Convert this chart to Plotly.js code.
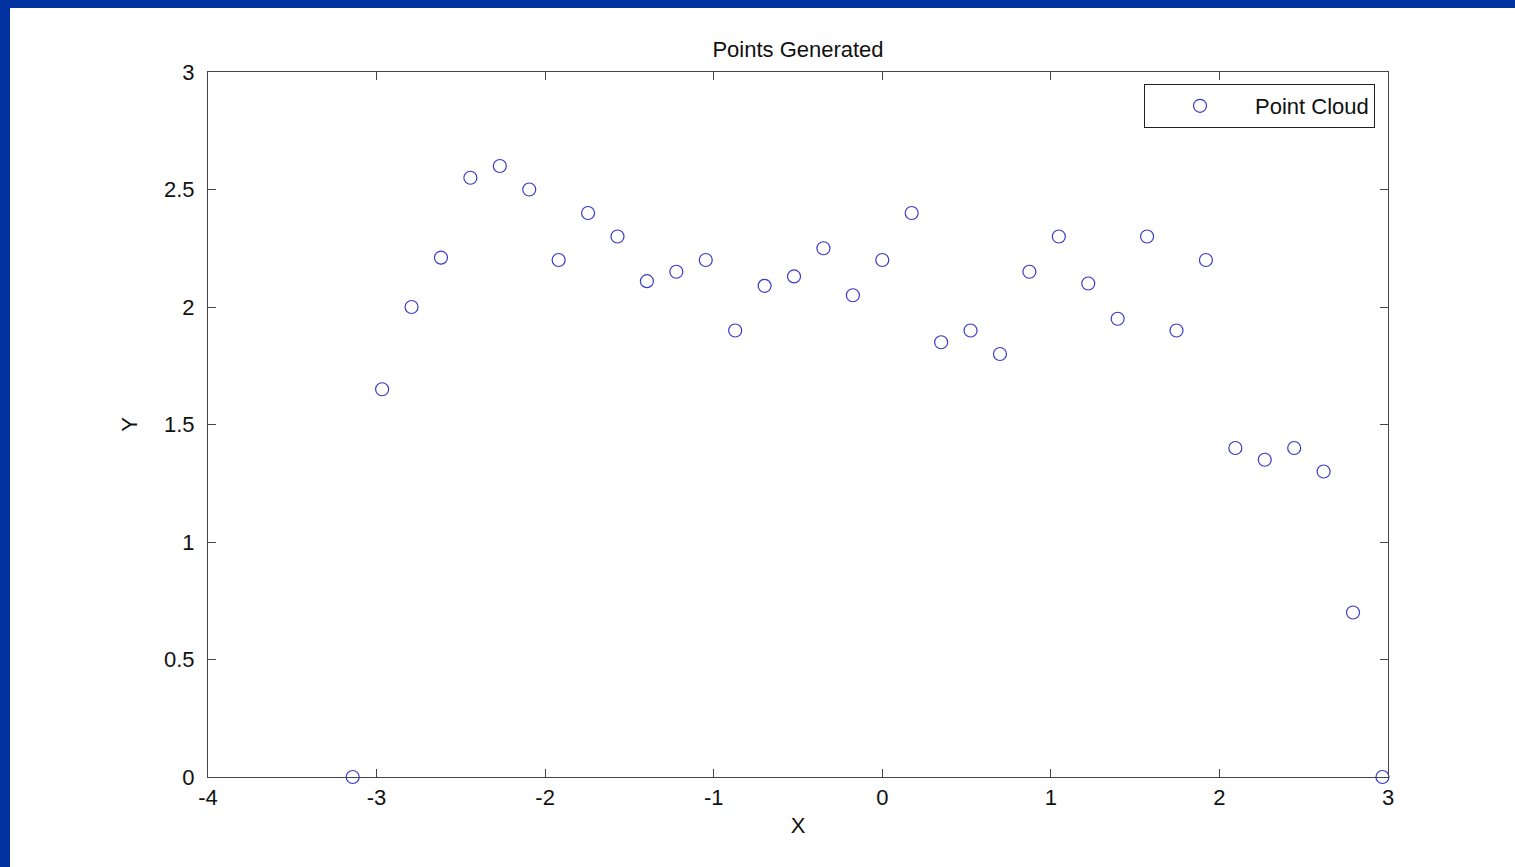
<!DOCTYPE html>
<html>
<head>
<meta charset="utf-8">
<script src="https://cdn.plot.ly/plotly-3.0.1.min.js"></script>
<style>
  html, body { margin: 0; padding: 0; background: #0033A0; width: 1515px; height: 867px; overflow: hidden; }
  #frame { position: absolute; left: 10px; top: 8px; width: 1505px; height: 859px; background: #ffffff; }
  #chart { width: 1505px; height: 859px; }
</style>
</head>
<body>
<div id="frame"><div id="chart"></div></div>
<script>
// Data
const xValues = [-3.1416, -2.9671, -2.7925, -2.6180, -2.4435, -2.2689, -2.0944, -1.9199, -1.7453,
  -1.5708, -1.3963, -1.2217, -1.0472, -0.8727, -0.6981, -0.5236, -0.3491, -0.1745, 0.0000,
  0.1745, 0.3491, 0.5236, 0.6981, 0.8727, 1.0472, 1.2217, 1.3963, 1.5708, 1.7453, 1.9199,
  2.0944, 2.2689, 2.4435, 2.6180, 2.7925, 2.9671];
const yValues = [0.00, 1.65, 2.00, 2.21, 2.55, 2.60, 2.50, 2.20, 2.40,
  2.30, 2.11, 2.15, 2.20, 1.90, 2.09, 2.13, 2.25, 2.05, 2.20,
  2.40, 1.85, 1.90, 1.80, 2.15, 2.30, 2.10, 1.95, 2.30, 1.90, 2.20,
  1.40, 1.35, 1.40, 1.30, 0.70, 0.00];
const seriesName = "Point Cloud";
const chartTitle = "Points Generated";
const xTitle = "X";
const yTitle = "Y";
const xTicks = [-4, -3, -2, -1, 0, 1, 2, 3];
const yTicks = [0, 0.5, 1, 1.5, 2, 2.5, 3];

const fontFamily = "'Liberation Sans', Arial, Helvetica, sans-serif";
const fontSize = 22;

const trace = {
  x: xValues,
  y: yValues,
  type: "scatter",
  mode: "markers",
  name: seriesName,
  legendwidth: 240,
  cliponaxis: false,
  marker: { symbol: "circle-open", size: 13, color: "#3a3ac8", line: { width: 1.2, color: "#3a3ac8" } }
};

const axisCommon = {
  showline: true,
  linecolor: "#444444",
  linewidth: 1,
  mirror: "ticks",
  ticks: "inside",
  ticklen: 8,
  tickwidth: 1,
  tickcolor: "#444444",
  showgrid: false,
  zeroline: false,
  tickfont: { family: fontFamily, size: fontSize, color: "#111111" }
};

const layout = {
  width: 1505,
  height: 859,
  paper_bgcolor: "#ffffff",
  plot_bgcolor: "#ffffff",
  margin: { l: 198, r: 127, t: 64, b: 90 },
  font: { family: fontFamily, color: "#111111" },
  title: {
    text: chartTitle,
    font: { family: fontFamily, size: fontSize, color: "#111111" },
    x: 0.5, xref: "paper", xanchor: "center",
    y: 1 - 41 / 859, yref: "container", yanchor: "middle"
  },
  xaxis: Object.assign({}, axisCommon, {
    range: [-4, 3],
    tickmode: "array",
    tickvals: xTicks,
    ticktext: xTicks.map(v => v < 0 ? "-" + Math.abs(v) : String(v)),
    ticklabelstandoff: 1,
    title: { text: xTitle, font: { family: fontFamily, size: fontSize, color: "#111111" }, standoff: 8 }
  }),
  yaxis: Object.assign({}, axisCommon, {
    range: [0, 3],
    tickmode: "array",
    tickvals: yTicks,
    ticktext: yTicks.map(v => String(v)),
    ticklabelstandoff: 8,
    title: { text: yTitle, font: { family: fontFamily, size: fontSize, color: "#111111" }, standoff: 20 }
  }),
  showlegend: true,
  legend: {
    x: 0.989, xanchor: "right",
    y: 0.983, yanchor: "top",
    bgcolor: "#ffffff",
    bordercolor: "#222222",
    borderwidth: 1,
    itemwidth: 100,
    font: { family: fontFamily, size: fontSize, color: "#111111" }
  }
};

Plotly.newPlot("chart", [trace], layout, { displayModeBar: false, staticPlot: true });
</script>
</body>
</html>
